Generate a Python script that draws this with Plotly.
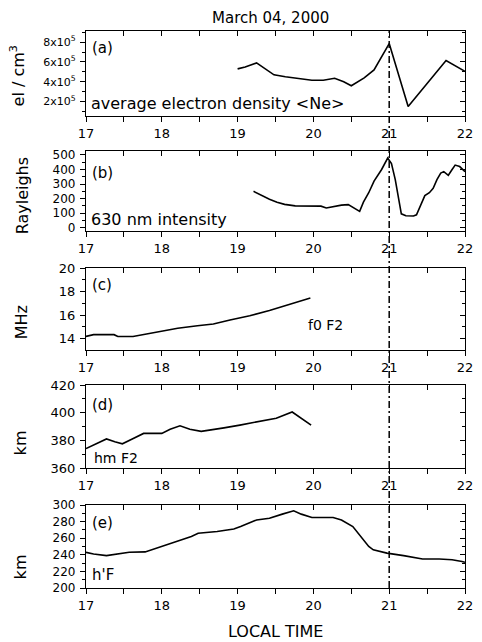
import plotly.graph_objects as go

title_text = "March 04, 2000"
x_title = "LOCAL TIME"

hour_ticks = [17, 18, 19, 20, 21, 22]
event_time = 21

# (a) average electron density <Ne>  (units of 10^5 el/cm^3)
ne_t = [19.0, 19.1, 19.25, 19.48, 19.63, 19.8, 19.98, 20.13, 20.28, 20.4, 20.5, 20.67, 20.8, 21.0, 21.25, 21.75, 22.0]
ne_v = [5.3, 5.5, 5.9, 4.7, 4.5, 4.35, 4.15, 4.15, 4.35, 4.0, 3.6, 4.4, 5.2, 7.85, 1.5, 6.15, 5.05]
ne_ticks = [2, 4, 6, 8]
ne_ticktext = ["2x10<sup>5</sup>", "4x10<sup>5</sup>", "6x10<sup>5</sup>", "8x10<sup>5</sup>"]

# (b) 630 nm intensity (Rayleighs)
ray_t = [19.21, 19.30, 19.42, 19.52, 19.62, 19.76, 19.90, 19.98, 20.10, 20.17, 20.24, 20.37, 20.46, 20.52,
         20.57, 20.61, 20.66, 20.73, 20.80, 20.90, 20.98, 21.03, 21.08, 21.12, 21.16, 21.22, 21.32, 21.36,
         21.42, 21.47, 21.53, 21.58, 21.63, 21.68, 21.72, 21.78, 21.83, 21.87, 21.93, 22.0]
ray_v = [250, 225, 195, 175, 160, 150, 150, 148, 148, 135, 142, 155, 158, 140,
         120, 112, 175, 240, 320, 400, 478, 440, 330, 200, 95, 82, 80, 88,
         160, 220, 240, 270, 330, 375, 385, 360, 400, 430, 420, 385]
ray_ticks = [0, 100, 200, 300, 400, 500]

# (c) f0F2 (MHz)
fof2_t = [17.0, 17.1, 17.37, 17.42, 17.62, 17.7, 17.78, 17.96, 18.21, 18.47, 18.68, 18.9, 19.16, 19.42, 19.68, 19.96]
fof2_v = [14.2, 14.35, 14.35, 14.2, 14.2, 14.3, 14.35, 14.6, 14.9, 15.1, 15.25, 15.6, 15.95, 16.4, 16.9, 17.45]
fof2_ticks = [14, 16, 18, 20]

# (d) hmF2 (km)
hmf2_t = [17.0, 17.27, 17.38, 17.48, 17.61, 17.76, 18.0, 18.11, 18.24, 18.37, 18.52, 18.65, 18.82, 19.03, 19.29, 19.51, 19.72, 19.97]
hmf2_v = [374, 381, 379, 377.5, 381, 385, 385, 388, 390.5, 388, 386.5, 387.5, 389, 391, 393.5, 396, 400.5, 391]
hmf2_ticks = [360, 380, 400, 420]

# (e) h'F (km)
hf_t = [17.0, 17.1, 17.27, 17.4, 17.57, 17.78, 17.96, 18.17, 18.39, 18.48, 18.73, 18.95, 19.04, 19.25, 19.42, 19.59,
        19.74, 19.84, 19.98, 20.26, 20.37, 20.52, 20.63, 20.73, 20.79, 20.97, 21.19, 21.44, 21.66, 21.83, 21.96, 22.0]
hf_v = [243, 241, 239, 241, 243, 243.5, 249, 255, 262, 266, 268, 271, 274, 282, 284, 289,
        293, 289, 285, 285, 282, 274, 262, 250, 246, 242, 239, 235, 235, 234, 232, 231]
hf_ticks = [200, 220, 240, 260, 280, 300]

FONT = "DejaVu Sans"
OFF = 8                       # page body margin
WIN_W, WIN_H = 482, 642
W, H = WIN_W - OFF, WIN_H - OFF
L, R, T, B = 86 - OFF, 9, 31 - OFF, 54
PH = H - T - B
PW = W - L - R


def py(pix):  # window pixel y -> paper
    return (WIN_H - B - pix) / PH


def px(pix):  # window pixel x -> paper
    return (pix - 86) / PW


panels = [
    dict(t=ne_t, v=ne_v, rng=[0.55, 9.12], tv=ne_ticks, tt=ne_ticktext, minor=[1, 3, 5, 7, 9],
         dom=[py(116), py(31)], fs=11),
    dict(t=ray_t, v=ray_v, rng=[-23, 527], tv=ray_ticks, tt=[str(v) for v in ray_ticks],
         minor=[50, 150, 250, 350, 450], dom=[py(231), py(151)], fs=12),
    dict(t=fof2_t, v=fof2_v, rng=[13.05, 20.0], tv=fof2_ticks, tt=[str(v) for v in fof2_ticks],
         minor=[15, 17, 19], dom=[py(350), py(268)], fs=13),
    dict(t=hmf2_t, v=hmf2_v, rng=[360, 420], tv=hmf2_ticks, tt=[str(v) for v in hmf2_ticks],
         minor=[370, 390, 410], dom=[py(468), py(385)], fs=13),
    dict(t=hf_t, v=hf_v, rng=[200, 300], tv=hf_ticks, tt=[str(v) for v in hf_ticks],
         minor=[210, 230, 250, 270, 290], dom=[0.0, py(505)], fs=12),
]

fig = go.Figure()
layout = {}
n = len(panels)
for i, p in enumerate(panels, start=1):
    xs = "x" if i == 1 else f"x{i}"
    ys = "y" if i == 1 else f"y{i}"
    j = i + n
    fig.add_trace(go.Scatter(x=p["t"], y=p["v"], mode="lines", xaxis=xs, yaxis=ys,
                             line=dict(color="black", width=1.6), showlegend=False, hoverinfo="skip"))
    # invisible copies so the mirrored (top/right) axes get drawn
    fig.add_trace(go.Scatter(x=p["t"], y=p["v"], mode="lines", xaxis=f"x{j}", yaxis=ys, opacity=0,
                             line=dict(color="black", width=0), showlegend=False, hoverinfo="skip"))
    fig.add_trace(go.Scatter(x=p["t"], y=p["v"], mode="lines", xaxis=xs, yaxis=f"y{j}", opacity=0,
                             line=dict(color="black", width=0), showlegend=False, hoverinfo="skip"))
    xk = "xaxis" if i == 1 else f"xaxis{i}"
    yk = "yaxis" if i == 1 else f"yaxis{i}"
    layout[xk] = dict(domain=[0, 1], anchor=ys, range=[17, 22], tickmode="array", tickvals=hour_ticks,
                      ticktext=[str(h) for h in hour_ticks], ticks="outside", ticklen=5, tickwidth=1,
                      tickcolor="black", showline=True, linecolor="black", linewidth=1.2,
                      showgrid=False, zeroline=False,
                      minor=dict(tickvals=[17.5, 18.5, 19.5, 20.5, 21.5], ticklen=5, ticks="outside",
                                 tickcolor="black", showgrid=False),
                      tickfont=dict(family=FONT, size=13, color="black"))
    layout[yk] = dict(domain=p["dom"], anchor=xs, range=p["rng"], tickmode="array", tickvals=p["tv"],
                      ticktext=p["tt"], ticks="outside", ticklen=5, tickwidth=1, tickcolor="black",
                      showline=True, linecolor="black", linewidth=1.2, showgrid=False, zeroline=False,
                      minor=dict(tickvals=p["minor"], ticklen=3, ticks="outside", tickcolor="black",
                                 showgrid=False),
                      tickfont=dict(family=FONT, size=p["fs"], color="black"), ticklabelstandoff=2)
    layout[f"xaxis{j}"] = dict(overlaying=xs, anchor=ys, side="top", range=[17, 22], tickmode="array",
                               tickvals=[17 + 0.5 * k for k in range(11)], ticks="inside", ticklen=5,
                               tickcolor="black", showticklabels=False, showline=True, linecolor="black",
                               linewidth=1.2, showgrid=False, zeroline=False)
    layout[f"yaxis{j}"] = dict(overlaying=ys, anchor=xs, side="right", range=p["rng"], tickmode="array",
                               tickvals=p["tv"], ticks="inside", ticklen=5, tickcolor="black",
                               showticklabels=False, showline=True, linecolor="black", linewidth=1.2,
                               showgrid=False, zeroline=False,
                               minor=dict(tickvals=p["minor"], ticklen=3, ticks="inside",
                                          tickcolor="black", showgrid=False))

annots = []


def ann(text, x, y, size=15, xanchor="left", angle=0):
    annots.append(dict(text=text, x=x, y=y, xref="paper", yref="paper", xanchor=xanchor, yanchor="middle",
                       showarrow=False, textangle=angle, font=dict(family=FONT, size=size, color="black")))


ann("(a)", px(90), py(48))
ann("average electron density &lt;Ne&gt;", px(89), py(103), size=16)
ann("(b)", px(90), py(173))
ann("630 nm intensity", px(89), py(220), size=16)
ann("(c)", px(90), py(285))
ann("f0 F2", px(311), py(325), size=14)
ann("(d)", px(90), py(405))
ann("hm F2", px(92), py(458), size=14)
ann("(e)", px(90), py(523))
ann("h'F", px(90), py(575), size=15)

ann(title_text, px(274), py(18), size=15, xanchor="center")
ann(x_title, px(280), py(631), size=16, xanchor="center")

ann("el / cm<sup>3</sup>", px(17), py(76), size=16, xanchor="center", angle=-90)
ann("Rayleighs", px(21), py(196), size=16, xanchor="center", angle=-90)
ann("MHz", px(20), py(322), size=16, xanchor="center", angle=-90)
ann("km", px(19), py(443), size=16, xanchor="center", angle=-90)
ann("km", px(19), py(567), size=16, xanchor="center", angle=-90)

shapes = [dict(type="line", xref="x", yref="paper", x0=event_time, x1=event_time, y0=0, y1=1,
               line=dict(color="black", width=1.5, dash="7px,3px,2px,3px"))]

fig.update_layout(width=W, height=H, margin=dict(l=L, r=R, t=T, b=B), plot_bgcolor="white",
                  paper_bgcolor="white", annotations=annots, shapes=shapes, showlegend=False, **layout)

fig.write_html("out.html")
